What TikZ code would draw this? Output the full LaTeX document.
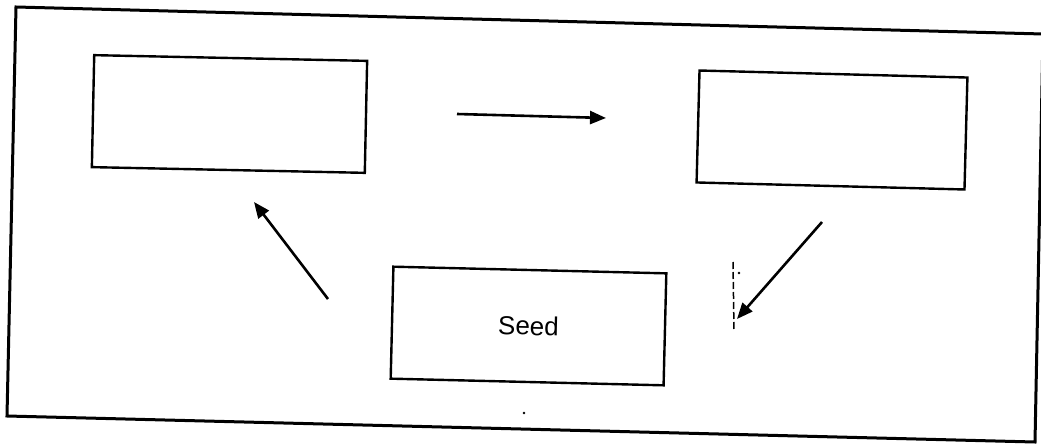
\documentclass[tikz,border=0pt]{standalone}
\usepackage{fontspec}
\setmainfont{Liberation Sans}
\usetikzlibrary{arrows.meta}
\tikzset{
  box/.style={draw=black, line width=2.4pt, minimum width=273pt, minimum height=112pt, inner sep=0pt, fill=white},
  flow/.style={line width=2.6pt, -{Triangle[length=16pt,width=13pt]}},
  frameline/.style={line width=3pt, line join=miter},
  speck/.style={fill=black, draw=none}
}
\begin{document}
\begin{tikzpicture}[x=1pt,y=-1pt]
\useasboundingbox (0,0) rectangle (1041,444);
\fill[white] (0,0) rectangle (1041,444);
\clip (0,0) rectangle (1041,444);
% outer frame (slightly skewed scan)
\draw[frameline] (16,7) -- (1043,34) -- (1035,442) -- (7,416) -- cycle;
% boxes
\node[box, rotate=-1.2] (b1) at (229.5,114) {};
\node[box, minimum width=268pt, rotate=-1.5] (b2) at (832,130) {};
\node[box, rotate=-1.4, font=\fontsize{26}{30}\selectfont] (seed) at (528.5,326) {Seed};
% arrow end points
\coordinate (h1) at (457,114);
\coordinate (h2) at (606,118);
\coordinate (r1) at (822,222);
\coordinate (r2) at (737,319);
\coordinate (l1) at (328,299);
\coordinate (l2) at (254,202);
\draw[flow] (h1) -- (h2);
\draw[flow] (r1) -- (r2);
\draw[flow] (l1) -- (l2);
% scan marks
\coordinate (m1) at (733,262);
\coordinate (m2) at (734,331);
\draw[line width=1.5pt, dash pattern=on 7pt off 3pt] (m1) -- (m2);
\fill[speck] (739,273) circle (1.4pt);
\fill[speck] (524,413) circle (1.4pt);
\end{tikzpicture}
\end{document}
